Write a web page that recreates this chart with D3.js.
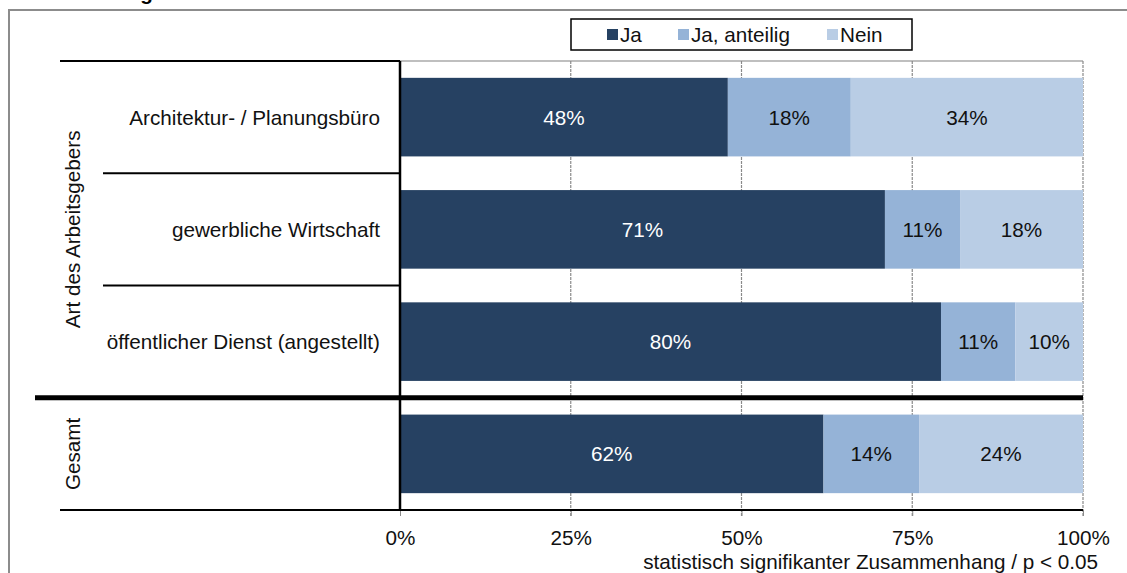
<!DOCTYPE html>
<html>
<head>
<meta charset="utf-8">
<script src="https://cdn.jsdelivr.net/npm/d3@7"></script>
<style>
  html, body { margin: 0; padding: 0; background: #fff; }
  svg { display: block; font-family: "Liberation Sans", Arial, sans-serif; }
</style>
</head>
<body>
<svg id="chart" width="1127" height="573"></svg>
<script>
// Rows of the chart (top to bottom) and their shares per answer
const categories = ["Architektur- / Planungsbüro", "gewerbliche Wirtschaft", "öffentlicher Dienst (angestellt)", "Gesamt"];
const seriesNames = ["Ja", "Ja, anteilig", "Nein"];
const jaValues = [48, 71, 80, 62];
const anteiligValues = [18, 11, 11, 14];
const neinValues = [34, 18, 10, 24];
const tickValues = [0, 0.25, 0.5, 0.75, 1];
const tickLabels = ["0%", "25%", "50%", "75%", "100%"];
const groupLabel = "Art des Arbeitsgebers";
const totalLabel = "Gesamt";
const titleText = "Nach Arbeitgeber";
const noteText = "statistisch signifikanter Zusammenhang / p < 0.05";

const colors = ["#264162", "#95b3d7", "#b9cde5"];
const labelColors = ["#ffffff", "#111111", "#111111"];
const FONT = 20.7;

const svg = d3.select("#chart");
const W = 1127, H = 573;
const plot = { left: 400, right: 1083, top: 61, bottom: 510 };

const rows = categories.map((c, i) => ({
  cat: c, "Ja": jaValues[i], "Ja, anteilig": anteiligValues[i], "Nein": neinValues[i]
}));

const stack = d3.stack().keys(seriesNames).offset(d3.stackOffsetExpand);
const stacked = stack(rows);

const x = d3.scaleLinear().domain([0, 1]).range([plot.left, plot.right]);
const y = d3.scaleBand().domain(categories).range([plot.top, plot.bottom])
  .paddingInner(0.3).paddingOuter(0.15);

// outer frame (runs past the page edge on the right and bottom)
svg.append("rect")
  .attr("x", 9).attr("y", 10).attr("width", W + 20).attr("height", H + 20)
  .attr("fill", "none").attr("stroke", "#8c8c8c").attr("stroke-width", 2);

// title, mostly above the page edge
svg.append("text")
  .attr("x", 25).attr("y", 0)
  .attr("font-size", FONT).attr("font-weight", "bold").attr("fill", "#000")
  .text(titleText);

// plot frame top
svg.append("line")
  .attr("x1", plot.left).attr("x2", plot.right)
  .attr("y1", plot.top).attr("y2", plot.top)
  .attr("stroke", "#808080").attr("stroke-width", 1.2);

// vertical gridlines, reaching a little below the axis as ticks
const grid = svg.append("g");
grid.selectAll("line").data(tickValues.slice(1)).join("line")
  .attr("x1", d => x(d)).attr("x2", d => x(d))
  .attr("y1", plot.top).attr("y2", plot.bottom + 6)
  .attr("stroke", "#8a8a8a").attr("stroke-width", 1.2)
  .attr("stroke-dasharray", "3,1");

// bars
const layers = svg.append("g").selectAll("g").data(stacked).join("g")
  .attr("fill", (d, i) => colors[i]);
layers.selectAll("rect").data(d => d).join("rect")
  .attr("x", d => x(d[0]))
  .attr("y", d => y(d.data.cat))
  .attr("width", d => x(d[1]) - x(d[0]))
  .attr("height", y.bandwidth());

// value labels
const vlabels = svg.append("g").attr("font-size", FONT).attr("text-anchor", "middle");
stacked.forEach((layer, i) => {
  vlabels.selectAll(null).data(layer).join("text")
    .attr("x", d => (x(d[0]) + x(d[1])) / 2)
    .attr("y", d => y(d.data.cat) + y.bandwidth() / 2)
    .attr("dy", "0.36em")
    .attr("fill", labelColors[i])
    .text(d => d.data[layer.key] + "%");
});

// x axis with percentage ticks
const xAxis = d3.axisBottom(x).tickValues(tickValues)
  .tickFormat((d, i) => tickLabels[i]).tickSize(6).tickPadding(14);
const ax = svg.append("g").attr("transform", `translate(0,${plot.bottom})`).call(xAxis);
ax.select(".domain").remove();
ax.selectAll(".tick line").attr("stroke", "#8a8a8a");
ax.selectAll(".tick text").attr("font-size", FONT).attr("font-family", "Liberation Sans, Arial, sans-serif").attr("fill", "#111");

svg.append("line")
  .attr("x1", plot.left).attr("x2", plot.right)
  .attr("y1", plot.bottom).attr("y2", plot.bottom)
  .attr("stroke", "#000").attr("stroke-width", 2);

// category labels
svg.append("g").attr("font-size", FONT).attr("text-anchor", "end").attr("fill", "#111")
  .selectAll("text").data(categories.slice(0, 3)).join("text")
  .attr("x", plot.left - 20)
  .attr("y", d => y(d) + y.bandwidth() / 2)
  .attr("dy", "0.36em")
  .text(d => d);

// row separators in the label area
const step = y.step();
const rowEdge = i => plot.top + i * step;
const sep = svg.append("g").attr("stroke", "#000").attr("stroke-width", 2);
sep.append("line").attr("x1", 60).attr("x2", plot.left).attr("y1", rowEdge(0)).attr("y2", rowEdge(0));
sep.append("line").attr("x1", 103).attr("x2", plot.left).attr("y1", rowEdge(1)).attr("y2", rowEdge(1));
sep.append("line").attr("x1", 103).attr("x2", plot.left).attr("y1", rowEdge(2)).attr("y2", rowEdge(2));
sep.append("line").attr("x1", 60).attr("x2", plot.left).attr("y1", rowEdge(4)).attr("y2", rowEdge(4));

// heavy line separating the total row
svg.append("line")
  .attr("x1", 35).attr("x2", plot.right)
  .attr("y1", rowEdge(3)).attr("y2", rowEdge(3))
  .attr("stroke", "#000").attr("stroke-width", 5);

// category axis line
svg.append("line")
  .attr("x1", plot.left).attr("x2", plot.left)
  .attr("y1", plot.top).attr("y2", plot.bottom + 1)
  .attr("stroke", "#000").attr("stroke-width", 2.5);

// rotated group labels
svg.append("text")
  .attr("transform", `translate(80,${(rowEdge(0) + rowEdge(3)) / 2}) rotate(-90)`)
  .attr("text-anchor", "middle").attr("font-size", FONT).attr("fill", "#111")
  .text(groupLabel);
svg.append("text")
  .attr("transform", `translate(80,${(rowEdge(3) + rowEdge(4)) / 2}) rotate(-90)`)
  .attr("text-anchor", "middle").attr("font-size", FONT).attr("fill", "#111")
  .text(totalLabel);

// legend
const legend = svg.append("g");
legend.append("rect")
  .attr("x", 571).attr("y", 19).attr("width", 341).attr("height", 31)
  .attr("fill", "#fff").attr("stroke", "#000").attr("stroke-width", 1.5);
const legendX = [607, 678, 827];
seriesNames.forEach((name, i) => {
  legend.append("rect")
    .attr("x", legendX[i]).attr("y", 29).attr("width", 11).attr("height", 11)
    .attr("fill", colors[i]);
  legend.append("text")
    .attr("x", legendX[i] + 13).attr("y", 35).attr("dy", "0.36em")
    .attr("font-size", FONT).attr("fill", "#111")
    .text(name);
});

// significance note
svg.append("text")
  .attr("x", 1098).attr("y", 562).attr("dy", "0.36em")
  .attr("text-anchor", "end").attr("font-size", FONT).attr("fill", "#111")
  .text(noteText);
</script>
</body>
</html>
